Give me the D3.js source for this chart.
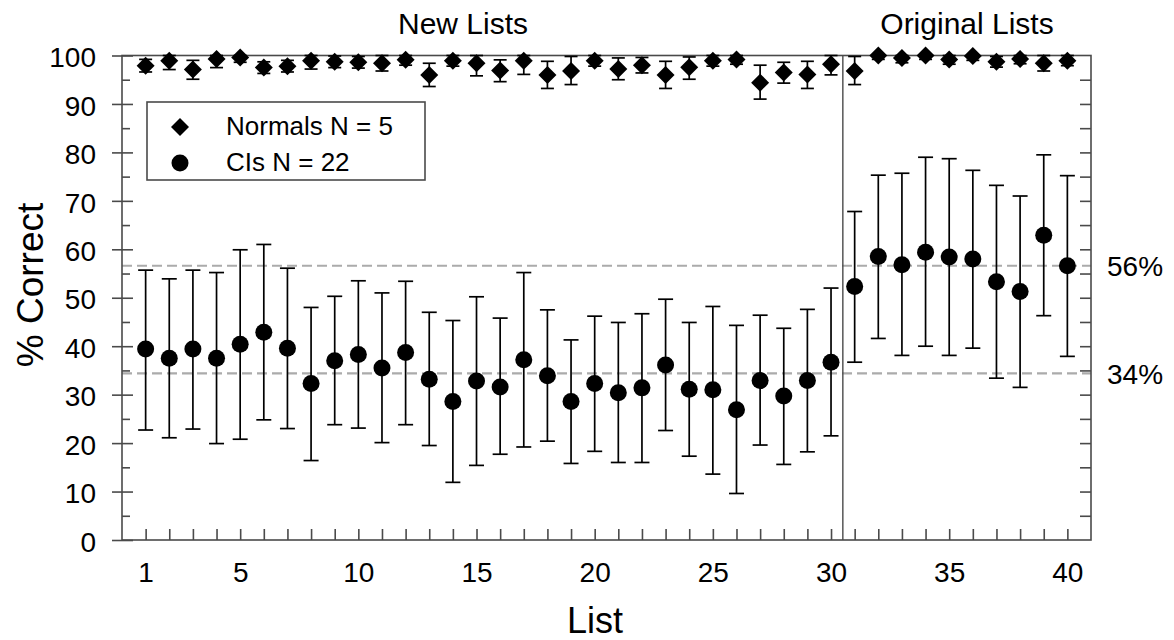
<!DOCTYPE html>
<html>
<head>
<meta charset="utf-8">
<script src="https://cdn.jsdelivr.net/npm/d3@7"></script>
<style>
  body { margin: 0; background: #fff; }
  svg { font-family: "Liberation Sans", Arial, sans-serif; }
</style>
</head>
<body>
<svg id="chart" width="1174" height="640"></svg>
<script>
// lists 1..40, 1-30 new lists, 31-40 original lists
const lists = d3.range(1, 41);

// normal hearing listeners (diamonds)
const normMean = [97.9, 98.9, 97.1, 99.3, 99.6, 97.5, 97.8, 98.9, 98.7, 98.6,
                  98.4, 99.1, 96.0, 98.9, 98.4, 96.9, 98.9, 96.0, 96.8, 98.9,
                  97.2, 98.0, 96.0, 97.6, 98.9, 99.2, 94.4, 96.5, 96.1, 98.2,
                  96.8, 100, 99.5, 100, 99.2, 99.9, 98.7, 99.3, 98.4, 98.9];
const normHi   = [99.2, 100, 99.0, 100, 100, 98.7, 99.0, 100, 99.9, 99.8,
                  100, 100, 98.4, 100, 100, 99.1, 100, 98.8, 99.8, 100,
                  99.5, 99.6, 98.8, 99.7, 100, 100, 98.0, 98.6, 98.8, 100,
                  99.8, 100, 100, 100, 100, 100, 99.8, 100, 100, 100];
const normLo   = [96.6, 97.1, 95.1, 97.5, 98.6, 96.3, 96.6, 97.2, 97.5, 97.4,
                  96.8, 98.0, 93.6, 97.8, 95.8, 94.6, 96.1, 93.2, 94.0, 97.8,
                  95.0, 96.4, 93.2, 95.1, 97.8, 98.2, 91.0, 94.3, 93.2, 96.0,
                  94.0, 99.2, 98.5, 99.2, 98.2, 99.0, 97.6, 98.3, 96.8, 97.9];

// cochlear implant users (circles)
const ciMean = [39.4, 37.5, 39.4, 37.5, 40.4, 42.9, 39.6, 32.3, 37.0, 38.3,
                35.5, 38.7, 33.2, 28.6, 32.8, 31.6, 37.2, 33.9, 28.6, 32.3,
                30.4, 31.4, 36.1, 31.1, 31.0, 26.9, 32.9, 29.7, 32.9, 36.7,
                52.3, 58.5, 56.8, 59.4, 58.4, 58.0, 53.3, 51.3, 62.9, 56.6];
const ciHi   = [55.7, 53.9, 55.7, 55.2, 59.9, 61.0, 56.1, 48.0, 50.3, 53.5,
                51.0, 53.4, 47.0, 45.3, 50.2, 45.8, 55.2, 47.5, 41.3, 46.2,
                44.9, 46.7, 49.7, 44.9, 48.2, 44.3, 46.4, 43.7, 47.6, 52.0,
                67.8, 75.3, 75.7, 79.0, 78.7, 76.3, 73.2, 71.0, 79.5, 75.2];
const ciLo   = [22.7, 21.1, 22.9, 19.9, 20.8, 24.8, 23.0, 16.4, 23.8, 23.1,
                20.1, 23.8, 19.5, 11.9, 15.4, 17.7, 19.2, 20.4, 15.8, 18.3,
                16.0, 16.0, 22.6, 17.3, 13.6, 9.6, 19.6, 15.6, 18.2, 21.5,
                36.7, 41.6, 38.1, 40.0, 38.1, 39.6, 33.4, 31.5, 46.3, 37.9];

// reference lines
const refLines = [{v: 56.6, label: "56%"}, {v: 34.4, label: "34%"}];
const xTickLabels = [1, 5, 10, 15, 20, 25, 30, 35, 40];
const yTicks = d3.range(0, 101, 10);
const yMinor = d3.range(5, 100, 10);
const rightTicks = d3.range(5, 100, 5);

const svg = d3.select("#chart");
const pLeft = 122, pRight = 1091, pTop = 55.5, pBottom = 540;

const x = d3.scaleLinear().domain([0, 41]).range([pLeft, pRight]);
const y = d3.scaleLinear().domain([0, 100]).range([pBottom, pTop]);
const axisColor = "#4a4a4a";

// dashed reference lines
svg.selectAll(".ref").data(refLines).enter().append("line")
    .attr("x1", pLeft).attr("x2", pRight)
    .attr("y1", d => y(d.v)).attr("y2", d => y(d.v))
    .attr("stroke", "#ababab").attr("stroke-width", 2.2)
    .attr("stroke-dasharray", "10,5");
svg.selectAll(".reflab").data(refLines).enter().append("text")
    .attr("x", 1107).attr("y", d => y(d.v) + 10.5)
    .attr("font-size", 28).text(d => d.label);

// frame
svg.append("rect")
    .attr("x", pLeft).attr("y", pTop)
    .attr("width", pRight - pLeft).attr("height", pBottom - pTop)
    .attr("fill", "none").attr("stroke", axisColor).attr("stroke-width", 1.6);

// separator between new and original lists
svg.append("line")
    .attr("x1", x(30.5)).attr("x2", x(30.5))
    .attr("y1", pTop).attr("y2", pBottom)
    .attr("stroke", axisColor).attr("stroke-width", 1.4);

function styleAxis(g) {
    g.select(".domain").remove();
    g.selectAll(".tick line").attr("stroke", axisColor).attr("stroke-width", 1.6);
    g.selectAll("text").attr("fill", "#000").attr("font-size", 28)
        .attr("font-family", "Liberation Sans, Arial, sans-serif");
}

// left axis: labelled ticks crossing the axis
svg.append("g").attr("transform", `translate(${pLeft},0)`)
    .call(d3.axisLeft(y).tickValues(yTicks).tickSize(10).tickPadding(16))
    .call(styleAxis)
    .selectAll("text").attr("dy", "0.4em");
svg.append("g").attr("transform", `translate(${pLeft},0)`)
    .call(d3.axisRight(y).tickValues(yTicks).tickSize(11).tickFormat(""))
    .call(styleAxis);
svg.append("g").attr("transform", `translate(${pLeft},0)`)
    .call(d3.axisRight(y).tickValues(yMinor).tickSize(8).tickFormat(""))
    .call(styleAxis);

// right axis ticks (inside)
svg.append("g").attr("transform", `translate(${pRight},0)`)
    .call(d3.axisLeft(y).tickValues(rightTicks).tickSize(11).tickFormat(""))
    .call(styleAxis);

// bottom axis: ticks at each list, labels every 5
svg.append("g").attr("transform", `translate(0,${pBottom})`)
    .call(d3.axisTop(x).tickValues(lists).tickSize(11).tickFormat(""))
    .call(styleAxis);
svg.append("g").attr("transform", `translate(0,${pBottom})`)
    .call(d3.axisBottom(x).tickValues(xTickLabels).tickSize(0).tickPadding(22))
    .call(styleAxis);

// axis titles
svg.append("text").attr("x", 595).attr("y", 633)
    .attr("text-anchor", "middle").attr("font-size", 36).text("List");
svg.append("text").attr("transform", "translate(43,285) rotate(-90)")
    .attr("text-anchor", "middle").attr("font-size", 37).text("% Correct");

// section titles
svg.append("text").attr("x", 463).attr("y", 34)
    .attr("text-anchor", "middle").attr("font-size", 30).text("New Lists");
svg.append("text").attr("x", 967).attr("y", 34)
    .attr("text-anchor", "middle").attr("font-size", 30).text("Original Lists");

// error bars
function errorBars(lo, hi, cap) {
    const g = svg.append("g").attr("stroke", "#000").attr("stroke-width", 1.7);
    lists.forEach((l, i) => {
        g.append("line").attr("x1", x(l)).attr("x2", x(l))
            .attr("y1", y(lo[i])).attr("y2", y(hi[i]));
        [lo[i], hi[i]].forEach(v => {
            g.append("line").attr("x1", x(l) - cap).attr("x2", x(l) + cap)
                .attr("y1", y(v)).attr("y2", y(v));
        });
    });
}
errorBars(ciLo, ciHi, 7.5);
errorBars(normLo, normHi, 6.5);

const diamond = d3.symbol().type(d3.symbolSquare).size(162);

// CI circles
svg.append("g").selectAll("circle").data(lists).enter().append("circle")
    .attr("cx", d => x(d)).attr("cy", (d, i) => y(ciMean[i]))
    .attr("r", 8.5).attr("fill", "#000");

// normal diamonds
svg.append("g").selectAll("path").data(lists).enter().append("path")
    .attr("d", diamond)
    .attr("transform", (d, i) => `translate(${x(d)},${y(normMean[i])}) rotate(45)`)
    .attr("fill", "#000");

// legend
const leg = svg.append("g");
leg.append("rect").attr("x", 147).attr("y", 102).attr("width", 278).attr("height", 78)
    .attr("fill", "#fff").attr("stroke", axisColor).attr("stroke-width", 1.6);
leg.append("path").attr("d", diamond).attr("transform", "translate(180,127) rotate(45)");
leg.append("circle").attr("cx", 180).attr("cy", 163).attr("r", 8.5);
leg.append("text").attr("x", 226).attr("y", 135).attr("font-size", 26).text("Normals N = 5");
leg.append("text").attr("x", 226).attr("y", 171).attr("font-size", 26).text("CIs N = 22");
</script>
</body>
</html>
